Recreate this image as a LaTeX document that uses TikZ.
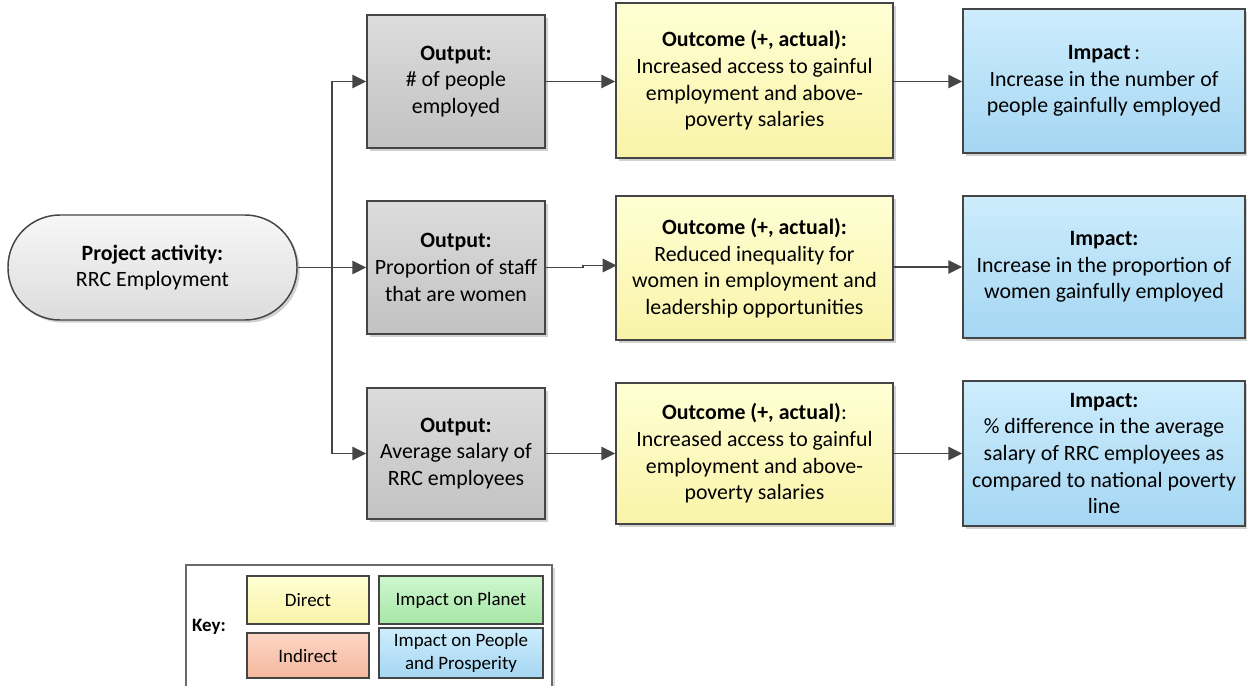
\documentclass[tikz,border=0pt]{standalone}
\usepackage{fontspec}
\setmainfont{Carlito}
\usetikzlibrary{arrows.meta,shadows,calc}
\definecolor{edge}{HTML}{454545}
\definecolor{projtop}{HTML}{F7F7F7}
\definecolor{projbot}{HTML}{DCDCDC}
\definecolor{outtop}{HTML}{DCDCDC}
\definecolor{outbot}{HTML}{C2C2C2}
\definecolor{yeltop}{HTML}{FFFFD4}
\definecolor{yelbot}{HTML}{F9F3A8}
\definecolor{blutop}{HTML}{CDEDFC}
\definecolor{blubot}{HTML}{A5D6F3}
\definecolor{saltop}{HTML}{FCD6C4}
\definecolor{salbot}{HTML}{F5B79E}
\definecolor{grntop}{HTML}{CFF7CF}
\definecolor{grnbot}{HTML}{A6E6A6}
\newcommand\mainsz{\fontsize{16.4}{20}\selectfont}
\newcommand\keysz{\fontsize{14.2}{17.3}\selectfont}
\begin{document}
\begin{tikzpicture}[x=0.75pt,y=-0.75pt,
  box/.style={draw=edge, line width=1.1pt, align=center, inner sep=0pt, font=\mainsz,
    drop shadow={shadow xshift=2pt, shadow yshift=-2pt, opacity=0.18, fill=black}},
  projbox/.style={top color=projtop, bottom color=projbot},
  outbox/.style={top color=outtop, bottom color=outbot},
  ocbox/.style={top color=yeltop, bottom color=yelbot},
  imbox/.style={top color=blutop, bottom color=blubot},
  keybox/.style={draw=edge, line width=0.9pt, align=center, inner sep=0pt, font=\keysz},
  arr/.style={draw=edge, line width=1.35pt, -{Triangle[length=10.5pt,width=10pt]}}]
\clip (0,0) rectangle (1247,686);
\fill[white] (0,0) rectangle (1247,686);

% project activity
\node[box, projbox, minimum width=216.75pt, minimum height=78.75pt, rounded corners=39pt]
  (proj) at (152.5,267.5) {\textbf{Project activity:}\\RRC Employment};

% outputs
\node[box, outbox, minimum width=133.5pt, minimum height=99.75pt] (out1) at (456,81.5)
  {\textbf{Output:}\\\#~of people\\employed};
\node[box, outbox, minimum width=133.5pt, minimum height=99.75pt] (out2) at (456,267.5)
  {\textbf{Output:}\\Proportion of staff\\that are women};
\node[box, outbox, minimum width=133.5pt, minimum height=98.25pt] (out3) at (456,453.5)
  {\textbf{Output:}\\Average salary of\\RRC employees};

% outcomes
\node[box, ocbox, minimum width=207.75pt, minimum height=116.25pt] (oc1) at (754.5,80.5)
  {\textbf{Outcome (+, actual):}\\Increased access to gainful\\employment and above-\\poverty salaries};
\node[box, ocbox, minimum width=207.75pt, minimum height=108pt] (oc2) at (754.5,268)
  {\textbf{Outcome (+, actual):}\\Reduced inequality for\\women in employment and\\leadership opportunities};
\node[box, ocbox, minimum width=207.75pt, minimum height=105.75pt] (oc3) at (754.5,453.5)
  {\textbf{Outcome (+, actual)}:\\Increased access to gainful\\employment and above-\\poverty salaries};

% impacts
\node[box, imbox, minimum width=211.5pt, minimum height=108pt] (im1) at (1104,81)
  {\textbf{Impact}\,:\\Increase in the number of\\people gainfully employed};
\node[box, imbox, minimum width=211.5pt, minimum height=106.5pt] (im2) at (1104,267)
  {\textbf{Impact:}\\Increase in the proportion of\\women gainfully employed};
\node[box, imbox, minimum width=211.5pt, minimum height=108.75pt] (im3) at (1104,453.5)
  {\textbf{Impact:}\\\%~difference in the average\\salary of RRC employees as\\compared to national poverty\\line};

% connectors
\coordinate (split) at ($(proj.east)!0.5!(out2.west)$);
\draw[arr] (proj.east) -- (out2.west);
\draw[arr] (split) |- (out1.west);
\draw[arr] (split) |- (out3.west);

\draw[arr] (out1.east) -- (out1.east -| oc1.west);
\draw[arr] (out2.east) -- ++(37,0) -- ++(0,-2) -- ++(34,0);
\draw[arr] (out3.east) -- (out3.east -| oc3.west);

\draw[arr] (oc1.east |- out1.east) -- (im1.west |- out1.east);
\draw[arr] (oc2.east |- im2.west) -- (im2.west);
\draw[arr] (oc3.east |- out3.east) -- (im3.west |- out3.east);

% key
\node[draw=edge!80, line width=0.9pt, fill=white, minimum width=274.5pt, minimum height=120pt,
  drop shadow={shadow xshift=2pt, shadow yshift=-2pt, opacity=0.15, fill=black}]
  (keyframe) at (369,645) {};
\node[font=\keysz\bfseries, inner sep=0pt] (keylbl) at (209,627) {Key:};
\node[keybox, top color=yeltop, bottom color=yelbot, minimum width=91.5pt, minimum height=36pt]
  (kdirect) at (308,600) {Direct};
\node[keybox, top color=saltop, bottom color=salbot, minimum width=91.5pt, minimum height=33.75pt]
  (kindirect) at (308,655.5) {Indirect};
\node[keybox, top color=grntop, bottom color=grnbot, minimum width=123pt, minimum height=36pt]
  (kplanet) at (461,600) {Impact on Planet};
\node[keybox, top color=blutop, bottom color=blubot, minimum width=123pt, minimum height=37.5pt]
  (kpeople) at (461,653) {Impact on People\\and Prosperity};
\end{tikzpicture}
\end{document}
